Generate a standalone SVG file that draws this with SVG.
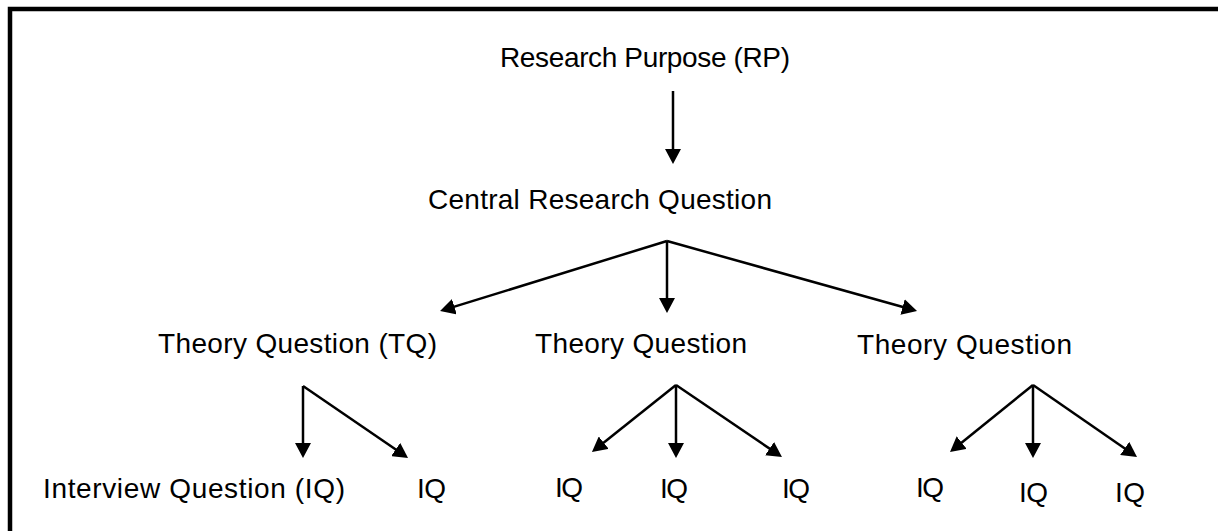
<svg xmlns="http://www.w3.org/2000/svg" width="1218" height="531" viewBox="0 0 1218 531">
<style>
text{font-family:"Liberation Sans",Arial,sans-serif;font-size:28px;fill:#000;}
.c line{stroke:#000;stroke-width:2.5;marker-end:url(#ah);}
</style>
<defs>
<marker id="ah" markerUnits="userSpaceOnUse" markerWidth="16" markerHeight="16" refX="5" refY="8" orient="auto" viewBox="0 0 16 16">
<path d="M0,0 L15,8 L0,16 Z" fill="#000"/>
</marker>
</defs>
<rect x="0" y="0" width="1218" height="531" fill="#fff"/>
<rect id="frame" x="10" y="9" width="1230" height="560" fill="none" stroke="#000" stroke-width="4.5"/>
<g id="rp"><text x="500" y="67" textLength="290">Research Purpose (RP)</text></g>
<g id="crq"><text x="428" y="209" textLength="344">Central Research Question</text></g>
<g id="tq1"><text x="158" y="353" textLength="279">Theory Question (TQ)</text></g>
<g id="tq2"><text x="535" y="353" textLength="212">Theory Question</text></g>
<g id="tq3"><text x="857" y="354" textLength="215">Theory Question</text></g>
<g id="iq1"><text x="43" y="498" textLength="302">Interview Question (IQ)</text></g>
<g id="iq2"><text x="417" y="498" textLength="29">IQ</text></g>
<g id="iq3"><text x="555" y="497" textLength="28">IQ</text></g>
<g id="iq4"><text x="660" y="498" textLength="28">IQ</text></g>
<g id="iq5"><text x="782" y="498" textLength="28">IQ</text></g>
<g id="iq6"><text x="916" y="497" textLength="28">IQ</text></g>
<g id="iq7"><text x="1019" y="502" textLength="29">IQ</text></g>
<g id="iq8"><text x="1115" y="502" textLength="30">IQ</text></g>
<g id="connectors" class="c">
<line x1="673" y1="91" x2="673" y2="154"/>
<line x1="667" y1="241" x2="449.6" y2="308.1"/>
<line x1="667" y1="241" x2="667" y2="303"/>
<line x1="667" y1="241" x2="907.4" y2="308.3"/>
<line x1="303" y1="386" x2="303" y2="448"/>
<line x1="303" y1="386" x2="399.8" y2="452.3"/>
<line x1="676" y1="385" x2="599.8" y2="445.8"/>
<line x1="676" y1="385" x2="676" y2="448"/>
<line x1="676" y1="385" x2="773.7" y2="451.4"/>
<line x1="1033" y1="385" x2="957.8" y2="445.7"/>
<line x1="1033" y1="385" x2="1033" y2="448"/>
<line x1="1033" y1="385" x2="1128.8" y2="451.3"/>
</g>
</svg>
